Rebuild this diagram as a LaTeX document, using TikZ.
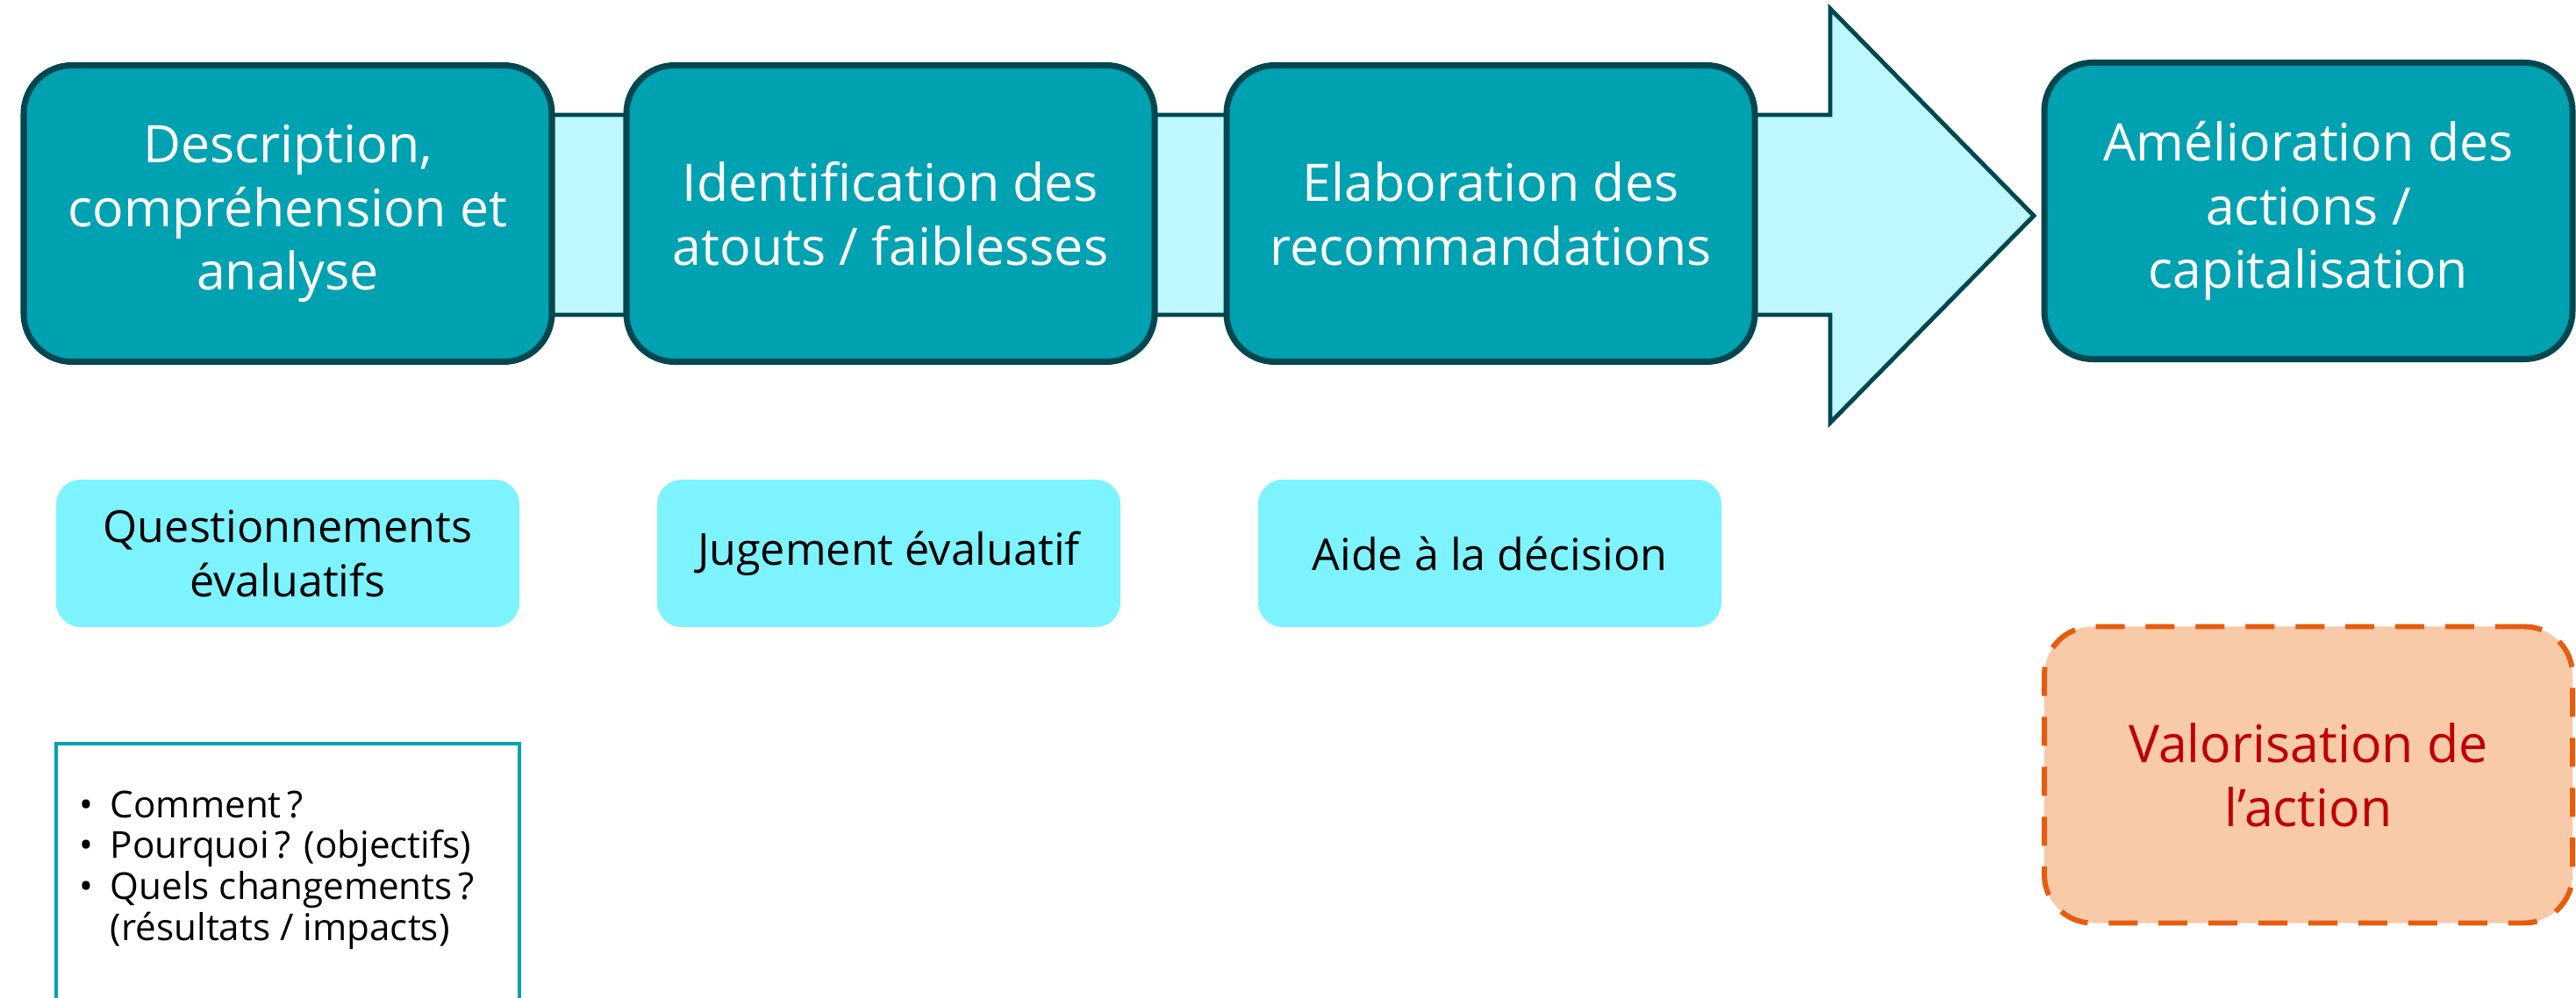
\documentclass[tikz,border=0pt]{standalone}
\usepackage{fontspec}
\setmainfont{Open Sans}
\definecolor{tealfill}{HTML}{00A1B1}
\definecolor{tealdark}{HTML}{00474F}
\definecolor{arrowfill}{HTML}{BEF8FE}
\definecolor{lightbox}{HTML}{7DF3FF}
\definecolor{orangefill}{HTML}{F8CAA8}
\definecolor{orangeline}{HTML}{E65C0E}
\definecolor{redtext}{HTML}{C00000}
\begin{document}
\begin{tikzpicture}[
  stepbox/.style={draw=tealdark, line width=2pt, fill=tealfill, rounded corners=0.55cm,
    minimum width=6.02cm, minimum height=3.38cm, text=white, align=center,
    font=\fontsize{16.8}{20.7}\selectfont, inner sep=0pt},
  smallbox/.style={fill=lightbox, rounded corners=0.28cm, minimum width=5.28cm,
    minimum height=1.68cm, align=center, font=\fontsize{14.3}{17.6}\selectfont, inner sep=0pt},
  bigarrow/.style={draw=tealdark, line width=1.4pt, fill=arrowfill, line join=miter},
  listbox/.style={draw=tealfill, line width=1.2pt, minimum width=5.28cm, minimum height=3.6cm, inner sep=0pt},
  listtext/.style={align=left, inner sep=0pt, font=\fontsize{12}{13.3}\selectfont},
  valbox/.style={draw=orangeline, line width=1.7pt, dash pattern=on 9.4pt off 6.8pt, fill=orangefill,
    rounded corners=0.55cm, minimum width=6.02cm, minimum height=3.38cm, text=redtext, align=center,
    font=\fontsize{16.8}{20.7}\selectfont, inner sep=0pt}
]
\useasboundingbox (0,0) rectangle (29.36,11.37);
\clip (0,0) rectangle (29.36,11.37);

% big background arrow
\coordinate (a1) at (4,10.06);
\coordinate (a2) at (20.86,10.06);
\coordinate (a3) at (20.86,11.27);
\coordinate (a4) at (23.18,8.91);
\coordinate (a5) at (20.86,6.55);
\coordinate (a6) at (20.86,7.78);
\coordinate (a7) at (4,7.78);
\draw[bigarrow] (a1) -- (a2) -- (a3) -- (a4) -- (a5) -- (a6) -- (a7) -- cycle;

% step boxes
\node[stepbox] (s1) at (3.28,8.935) {Description,\\compréhension et\\analyse};
\node[stepbox] (s2) at (10.15,8.935) {Identification des\\atouts / faiblesses};
\node[stepbox] (s3) at (16.99,8.935) {Elaboration des\\recommandations};
\node[stepbox] (s4) at (26.31,8.965) {Amélioration des\\actions /\\capitalisation};

% small boxes
\node[smallbox] (q1) at (3.28,5.06) {Questionnements\\évaluatifs};
\node[smallbox] (q2) at (10.13,5.06) {Jugement évaluatif};
\node[smallbox] (q3) at (16.98,5.06) {Aide à la décision};

% list box
\node[listbox, anchor=north] (lb) at (3.28,2.91) {};
\node[listtext, anchor=north west] (lt) at (0.90,2.36) {%
\makebox[10pt][l]{•}Comment\,?\\
\makebox[10pt][l]{•}Pourquoi\,? (objectifs)\\
\makebox[10pt][l]{•}Quels changements\,?\\
\makebox[10pt][l]{}(résultats / impacts)};

% valorisation
\node[valbox] (v) at (26.31,2.535) {Valorisation de\\l’action};
\end{tikzpicture}
\end{document}
